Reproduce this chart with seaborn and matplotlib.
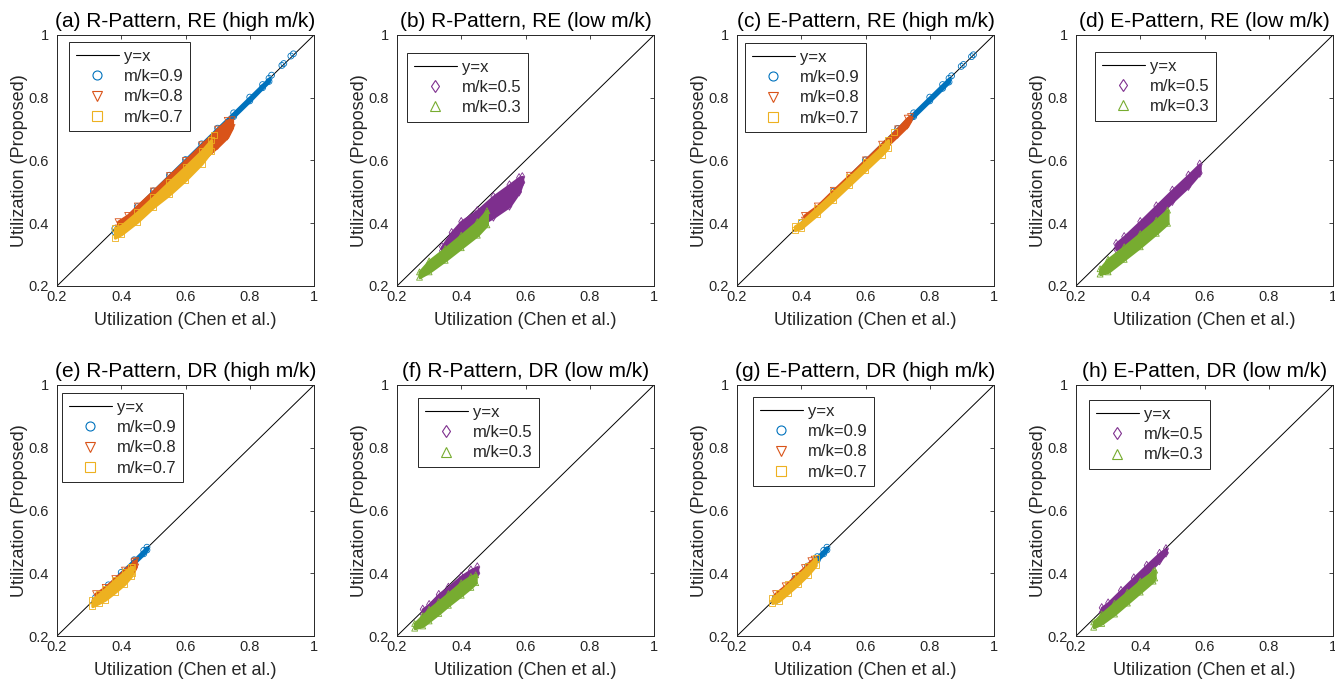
import numpy as np
import pandas as pd
import matplotlib
matplotlib.use("Agg")
import matplotlib.pyplot as plt
from matplotlib.lines import Line2D
import seaborn as sns

# ---------------- data ----------------
TITLES = ["(a) R-Pattern, RE (high m/k)", "(b) R-Pattern, RE (low m/k)",
          "(c) E-Pattern, RE (high m/k)", "(d) E-Pattern, RE (low m/k)",
          "(e) R-Pattern, DR (high m/k)", "(f) R-Pattern, DR (low m/k)",
          "(g) E-Pattern, DR (high m/k)", "(h) E-Patten, DR (low m/k)"]
TICKS = [0.2, 0.4, 0.6, 0.8, 1.0]
TICK_LABELS = ["0.2", "0.4", "0.6", "0.8", "1"]
XLABEL = "Utilization (Chen et al.)"
YLABEL = "Utilization (Proposed)"

# band readings: x, upper edge, lower edge (plus isolated outliers)
A9_X = [0.38, 0.45, 0.50, 0.55, 0.60, 0.65, 0.70, 0.75, 0.80, 0.84, 0.86]
A9_HI = [0.383, 0.453, 0.503, 0.553, 0.603, 0.653, 0.703, 0.752, 0.802, 0.842, 0.862]
A9_LO = [0.372, 0.442, 0.492, 0.541, 0.590, 0.640, 0.690, 0.740, 0.790, 0.832, 0.852]
A9_OX = [0.868, 0.900, 0.906, 0.928, 0.936]
A9_OY = [0.872, 0.903, 0.909, 0.933, 0.940]
A8_X = [0.39, 0.42, 0.45, 0.50, 0.55, 0.60, 0.65, 0.70, 0.73, 0.745]
A8_HI = [0.405, 0.425, 0.455, 0.503, 0.552, 0.600, 0.650, 0.700, 0.728, 0.730]
A8_LO = [0.385, 0.400, 0.420, 0.460, 0.505, 0.550, 0.600, 0.645, 0.675, 0.705]
A7_X = [0.38, 0.40, 0.45, 0.50, 0.55, 0.60, 0.65, 0.68]
A7_HI = [0.385, 0.392, 0.435, 0.483, 0.532, 0.580, 0.630, 0.665]
A7_LO = [0.354, 0.365, 0.405, 0.452, 0.492, 0.538, 0.590, 0.630]
A7_OX = [0.690]
A7_OY = [0.681]

B5_X = [0.34, 0.37, 0.40, 0.45, 0.50, 0.55, 0.58, 0.59]
B5_HI = [0.325, 0.370, 0.405, 0.440, 0.485, 0.522, 0.545, 0.548]
B5_LO = [0.312, 0.330, 0.355, 0.390, 0.420, 0.455, 0.500, 0.530]
B3_X = [0.27, 0.30, 0.35, 0.40, 0.45, 0.48]
B3_HI = [0.245, 0.280, 0.320, 0.362, 0.405, 0.440]
B3_LO = [0.228, 0.245, 0.282, 0.322, 0.362, 0.395]

C9_X = [0.40, 0.50, 0.60, 0.70, 0.75, 0.80, 0.84, 0.86]
C9_HI = [0.402, 0.502, 0.602, 0.702, 0.752, 0.802, 0.842, 0.862]
C9_LO = [0.390, 0.490, 0.590, 0.690, 0.740, 0.790, 0.830, 0.850]
C9_OX = [0.868, 0.898, 0.905, 0.930, 0.936]
C9_OY = [0.870, 0.900, 0.906, 0.931, 0.937]
C8_X = [0.41, 0.45, 0.50, 0.55, 0.60, 0.65, 0.70, 0.73, 0.74]
C8_HI = [0.425, 0.455, 0.505, 0.553, 0.602, 0.652, 0.701, 0.735, 0.740]
C8_LO = [0.410, 0.435, 0.485, 0.533, 0.582, 0.632, 0.680, 0.710, 0.728]
C7_X = [0.38, 0.40, 0.45, 0.50, 0.55, 0.60, 0.65, 0.67]
C7_HI = [0.390, 0.403, 0.450, 0.498, 0.546, 0.595, 0.643, 0.665]
C7_LO = [0.378, 0.385, 0.428, 0.474, 0.522, 0.570, 0.618, 0.640]
C7_OX = [0.690]
C7_OY = [0.690]

D5_X = [0.325, 0.35, 0.40, 0.45, 0.50, 0.55, 0.585]
D5_HI = [0.335, 0.357, 0.405, 0.455, 0.505, 0.553, 0.588]
D5_LO = [0.318, 0.325, 0.370, 0.420, 0.470, 0.518, 0.560]
D3_X = [0.275, 0.30, 0.35, 0.40, 0.45, 0.485]
D3_HI = [0.255, 0.285, 0.325, 0.367, 0.410, 0.442]
D3_LO = [0.238, 0.245, 0.285, 0.325, 0.368, 0.400]

E9_X = [0.32, 0.36, 0.40, 0.44, 0.47, 0.48]
E9_HI = [0.323, 0.363, 0.403, 0.443, 0.473, 0.483]
E9_LO = [0.312, 0.352, 0.392, 0.432, 0.462, 0.474]
E8_X = [0.32, 0.35, 0.38, 0.41, 0.44, 0.445]
E8_HI = [0.335, 0.355, 0.383, 0.410, 0.437, 0.440]
E8_LO = [0.310, 0.330, 0.355, 0.380, 0.410, 0.420]
E7_X = [0.31, 0.33, 0.35, 0.38, 0.41, 0.43, 0.435]
E7_HI = [0.315, 0.333, 0.350, 0.378, 0.404, 0.420, 0.420]
E7_LO = [0.295, 0.305, 0.316, 0.340, 0.366, 0.390, 0.400]

F5_X = [0.28, 0.30, 0.33, 0.36, 0.40, 0.43, 0.45]
F5_HI = [0.285, 0.300, 0.332, 0.355, 0.390, 0.410, 0.420]
F5_LO = [0.270, 0.280, 0.305, 0.330, 0.360, 0.385, 0.400]
F3_X = [0.255, 0.28, 0.30, 0.33, 0.36, 0.40, 0.43, 0.445]
F3_HI = [0.240, 0.265, 0.285, 0.310, 0.335, 0.370, 0.390, 0.395]
F3_LO = [0.225, 0.232, 0.248, 0.272, 0.298, 0.330, 0.355, 0.370]

G9_X = [0.32, 0.38, 0.42, 0.45, 0.47, 0.48]
G9_HI = [0.323, 0.383, 0.423, 0.453, 0.473, 0.483]
G9_LO = [0.312, 0.372, 0.412, 0.442, 0.462, 0.474]
G8_X = [0.32, 0.35, 0.38, 0.41, 0.43, 0.44]
G8_HI = [0.335, 0.360, 0.390, 0.418, 0.440, 0.445]
G8_LO = [0.320, 0.340, 0.365, 0.395, 0.420, 0.430]
G7_X = [0.31, 0.33, 0.36, 0.39, 0.42, 0.445]
G7_HI = [0.320, 0.337, 0.365, 0.393, 0.422, 0.448]
G7_LO = [0.305, 0.312, 0.338, 0.365, 0.395, 0.425]

H5_X = [0.28, 0.30, 0.34, 0.38, 0.42, 0.46, 0.48]
H5_HI = [0.290, 0.305, 0.345, 0.385, 0.425, 0.463, 0.478]
H5_LO = [0.275, 0.285, 0.320, 0.360, 0.400, 0.440, 0.465]
H3_X = [0.255, 0.28, 0.32, 0.36, 0.40, 0.44, 0.445]
H3_HI = [0.245, 0.270, 0.305, 0.340, 0.375, 0.405, 0.410]
H3_LO = [0.228, 0.240, 0.270, 0.305, 0.340, 0.375, 0.385]

# ---------------- styles ----------------
COL = {"m/k=0.9": "#0072BD", "m/k=0.8": "#D95319", "m/k=0.7": "#EDB120",
       "m/k=0.5": "#7E2F8E", "m/k=0.3": "#77AC30"}
MRK = {"m/k=0.9": "o", "m/k=0.8": "v", "m/k=0.7": "s",
       "m/k=0.5": "d", "m/k=0.3": "^"}

PANELS = [
    [("m/k=0.9", A9_X, A9_HI, A9_LO, A9_OX, A9_OY),
     ("m/k=0.8", A8_X, A8_HI, A8_LO, [], []),
     ("m/k=0.7", A7_X, A7_HI, A7_LO, A7_OX, A7_OY)],
    [("m/k=0.5", B5_X, B5_HI, B5_LO, [], []),
     ("m/k=0.3", B3_X, B3_HI, B3_LO, [], [])],
    [("m/k=0.9", C9_X, C9_HI, C9_LO, C9_OX, C9_OY),
     ("m/k=0.8", C8_X, C8_HI, C8_LO, [], []),
     ("m/k=0.7", C7_X, C7_HI, C7_LO, C7_OX, C7_OY)],
    [("m/k=0.5", D5_X, D5_HI, D5_LO, [], []),
     ("m/k=0.3", D3_X, D3_HI, D3_LO, [], [])],
    [("m/k=0.9", E9_X, E9_HI, E9_LO, [], []),
     ("m/k=0.8", E8_X, E8_HI, E8_LO, [], []),
     ("m/k=0.7", E7_X, E7_HI, E7_LO, [], [])],
    [("m/k=0.5", F5_X, F5_HI, F5_LO, [], []),
     ("m/k=0.3", F3_X, F3_HI, F3_LO, [], [])],
    [("m/k=0.9", G9_X, G9_HI, G9_LO, [], []),
     ("m/k=0.8", G8_X, G8_HI, G8_LO, [], []),
     ("m/k=0.7", G7_X, G7_HI, G7_LO, [], [])],
    [("m/k=0.5", H5_X, H5_HI, H5_LO, [], []),
     ("m/k=0.3", H3_X, H3_HI, H3_LO, [], [])],
]

# legend offsets from axes top-left (pixels)
LEG_OFF = [(12, 7), (10, 18), (8, 8), (19, 17), (5, 8), (21, 13), (16, 12), (13, 15)]

sns.set_theme(style="white")
plt.rcParams["font.family"] = ["Liberation Sans", "DejaVu Sans"]
AXC = "#262626"

W, H = 1335, 679
fig = plt.figure(figsize=(W / 100, H / 100), dpi=100)
col_left = [57, 397, 737, 1076]
row_top = [35, 385]
AW, AH = 257, 251

for i, series in enumerate(PANELS):
    r, c = divmod(i, 4)
    left = col_left[c]
    top = row_top[r]
    ax = fig.add_axes([left / W, (H - top - AH) / H, AW / W, AH / H])
    ax.set_facecolor("white")
    ax.plot([0.2, 1.0], [0.2, 1.0], color="black", lw=0.7, zorder=1)
    z = 2
    for name, xs, hi, lo, ox, oy in series:
        colr = COL[name]
        ax.fill_between(xs, lo, hi, color=colr, lw=2.2, edgecolor=colr,
                        joinstyle="round", zorder=z)
        df = pd.DataFrame({"x": list(xs) + list(xs) + list(ox),
                           "y": list(hi) + list(lo) + list(oy)})
        sns.scatterplot(data=df, x="x", y="y", ax=ax, marker=MRK[name], s=18,
                        color=colr, linewidth=0.6, zorder=z + 0.5, legend=False)
        sc = ax.collections[-1]
        sc.set_facecolor("none")
        sc.set_edgecolor(colr)
        z += 1
    ax.set_xlim(0.2, 1.0)
    ax.set_ylim(0.2, 1.0)
    ax.set_xticks(TICKS)
    ax.set_yticks(TICKS)
    ax.set_xticklabels(TICK_LABELS)
    ax.set_yticklabels(TICK_LABELS)
    ax.tick_params(direction="in", length=3, width=0.6, top=True, right=True,
                   labelsize=10.5, colors=AXC, pad=6)
    ax.tick_params(axis="x", pad=3)
    for sp in ax.spines.values():
        sp.set_color(AXC)
        sp.set_linewidth(0.7)
        sp.set_visible(True)
    ax.set_xlabel(XLABEL, fontsize=13, color=AXC)
    ax.set_ylabel(YLABEL, fontsize=13, color=AXC)
    ax.xaxis.set_label_coords(0.5, -26 / AH)
    ax.yaxis.set_label_coords(-29 / AW, 0.5)
    ax.set_title(TITLES[i], fontsize=15, color="black", pad=6)

    handles = [Line2D([0], [0], color="black", lw=0.8, label="y=x")]
    for name, *_ in series:
        handles.append(Line2D([0], [0], ls="none", marker=MRK[name], markersize=6.5,
                              markerfacecolor="none", markeredgecolor=COL[name],
                              markeredgewidth=0.8, label=name))
    dx, dy = LEG_OFF[i]
    leg = ax.legend(handles=handles, loc="upper left",
                    bbox_to_anchor=(dx / AW, 1 - dy / AH), borderaxespad=0,
                    fontsize=12, handlelength=2.6, handletextpad=0.3,
                    labelspacing=0.32, borderpad=0.4, fancybox=False,
                    framealpha=1, edgecolor=AXC)
    leg.get_frame().set_linewidth(0.7)

fig.savefig("out.png", dpi=100, facecolor="white")
